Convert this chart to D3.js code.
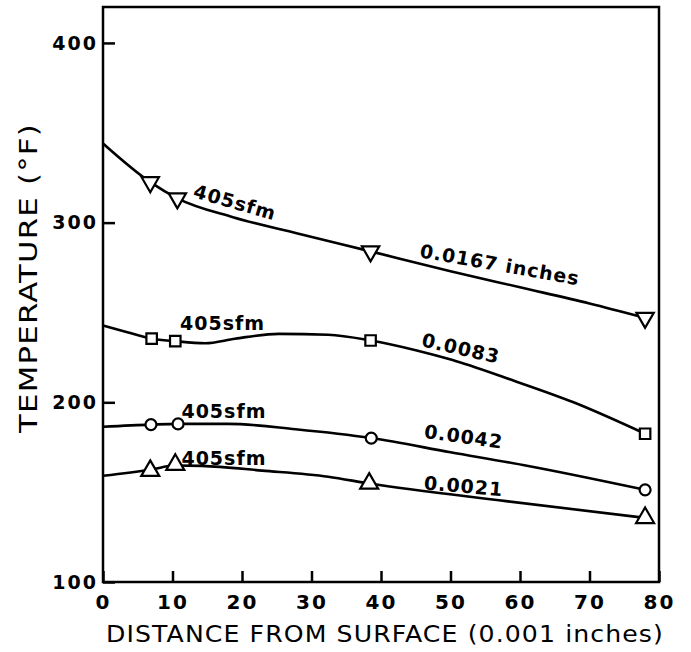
<!DOCTYPE html>
<html>
<head>
<meta charset="utf-8">
<script src="https://cdn.jsdelivr.net/npm/d3@7"></script>
<style>
    body { margin: 0; background: #fff; }
    svg { display: block; }
    text { font-family: 'DejaVu Sans', sans-serif; fill: #000; }
</style>
</head>
<body>
<div id="chart"></div>
<script>
// Tick values
const xTicks = [0, 10, 20, 30, 40, 50, 60, 70, 80];
const yTicks = [100, 200, 300, 400];

// Smooth curves: [distance (0.001 in), temperature (F)]
const curve0167 = [[0, 344], [6.8, 322.5], [10.7, 313.5], [18.7, 303], [28, 294], [38.5, 284], [50, 273], [60, 264], [70, 255], [78, 247]];
const curve0083 = [[0, 242.8], [3.5, 239], [7, 235.4], [10.4, 234], [14.7, 232.9], [19, 235.4], [25.3, 238.1], [32.4, 237.6], [38.5, 234.4], [45, 229], [50.3, 223.5], [58, 213.5], [67.7, 200], [78, 182.5]];
const curve0042 = [[0, 186.4], [6.9, 187.6], [10.8, 188], [18, 188], [27.7, 185], [38.6, 180.1], [50, 172.2], [61, 164.7], [78, 151.3]];
const curve0021 = [[0, 159.1], [6.8, 162.5], [10.4, 164.8], [14.2, 164.6], [22.9, 162], [32.4, 158.6], [38.3, 154.8], [58, 145], [78, 135.7]];

// Measured points
const points0167 = [[6.8, 322.5], [10.7, 313.5], [38.5, 284], [78, 247]];
const points0083 = [[7, 235.4], [10.4, 234], [38.5, 234.4], [78, 182.5]];
const points0042 = [[6.9, 187.6], [10.8, 188], [38.6, 180.1], [78, 151.3]];
const points0021 = [[6.8, 161.9], [10.4, 165.3], [38.3, 154.8], [78, 135.7]];

// Curve labels: [text, x, temperature, angle]
const labels = [
    ['405sfm', 19.0, 311.5, 16],
    ['0.0167 inches', 57.1, 276.8, 10],
    ['405sfm', 17.2, 244.2, 0],
    ['0.0083', 51.5, 230.2, 13],
    ['405sfm', 17.4, 195.4, 0],
    ['0.0042', 51.9, 181.1, 8],
    ['405sfm', 17.4, 169, 0],
    ['0.0021', 51.9, 153.5, 5]
];

const config = {
    width: 691,
    height: 652,
    left: 103,
    right: 659,
    top: 7,
    bottom: 582
};

const svg = d3.select('#chart')
    .append('svg')
    .attr('width', config.width)
    .attr('height', config.height);

const x = d3.scaleLinear()
    .domain([0, 80])
    .range([config.left, config.right]);

const y = d3.scaleLinear()
    .domain([100, 420])
    .range([config.bottom, config.top]);

// Frame
svg.append('rect')
    .attr('x', config.left)
    .attr('y', config.top)
    .attr('width', config.right - config.left)
    .attr('height', config.bottom - config.top)
    .attr('fill', 'none')
    .attr('stroke', '#000')
    .attr('stroke-width', 2.5);

// X axis - ticks point into the plot
svg.append('g')
    .attr('transform', `translate(0,${config.bottom})`)
    .call(d3.axisBottom(x).tickValues(xTicks).tickSize(-11).tickPadding(13))
    .call(g => g.select('.domain').remove())
    .call(g => g.selectAll('line').attr('stroke', '#000').attr('stroke-width', 2.5))
    .call(g => g.selectAll('text')
        .attr('font-family', 'DejaVu Sans')
        .attr('font-size', 20)
        .attr('font-weight', 'bold')
        .attr('letter-spacing', 2));

// Y axis
svg.append('g')
    .attr('transform', `translate(${config.left},0)`)
    .call(d3.axisLeft(y).tickValues(yTicks).tickSize(-12).tickPadding(5))
    .call(g => g.select('.domain').remove())
    .call(g => g.selectAll('line').attr('stroke', '#000').attr('stroke-width', 2.5))
    .call(g => g.selectAll('text')
        .attr('font-family', 'DejaVu Sans')
        .attr('font-size', 19)
        .attr('font-weight', 'bold')
        .attr('letter-spacing', 2));

// Axis titles, stretched horizontally to the lettering width of the original
function stretchedTitle(label, cx, cy, angle, fontSize, targetWidth) {
    const g = svg.append('g')
        .attr('transform', `translate(${cx},${cy}) rotate(${angle})`);
    const t = g.append('text')
        .attr('text-anchor', 'middle')
        .attr('font-size', fontSize)
        .attr('letter-spacing', 1)
        .text(label);
    const w = t.node().getComputedTextLength();
    t.attr('transform', `scale(${targetWidth / w},1)`);
}

stretchedTitle('DISTANCE FROM SURFACE (0.001 inches)', 385, 642, 0, 23, 558);
stretchedTitle('TEMPERATURE (\u00B0F)', 37, 278, -90, 25, 310);

// Curves
const line = d3.line()
    .x(d => x(d[0]))
    .y(d => y(d[1]))
    .curve(d3.curveMonotoneX);

[curve0167, curve0083, curve0042, curve0021].forEach(c => {
    svg.append('path')
        .datum(c)
        .attr('fill', 'none')
        .attr('stroke', '#000')
        .attr('stroke-width', 2.6)
        .attr('d', line);
});

// Markers
const markerSets = [
    {data: points0167, type: d3.symbolTriangle, size: 130, rotate: 180},
    {data: points0083, type: d3.symbolSquare, size: 110, rotate: 0},
    {data: points0042, type: d3.symbolCircle, size: 95, rotate: 0},
    {data: points0021, type: d3.symbolTriangle, size: 140, rotate: 0}
];

markerSets.forEach(m => {
    svg.append('g')
        .selectAll('path')
        .data(m.data)
        .join('path')
        .attr('transform', d => `translate(${x(d[0])},${y(d[1])}) rotate(${m.rotate})`)
        .attr('d', d3.symbol().type(m.type).size(m.size))
        .attr('fill', '#fff')
        .attr('stroke', '#000')
        .attr('stroke-width', 2.2);
});

// Curve labels
svg.append('g')
    .selectAll('text')
    .data(labels)
    .join('text')
    .attr('transform', d => `translate(${x(d[1])},${y(d[2])}) rotate(${d[3]})`)
    .attr('text-anchor', 'middle')
    .attr('dominant-baseline', 'central')
    .attr('font-size', 19)
    .attr('font-weight', 'bold')
    .attr('letter-spacing', 1)
    .text(d => d[0]);
</script>
</body>
</html>
